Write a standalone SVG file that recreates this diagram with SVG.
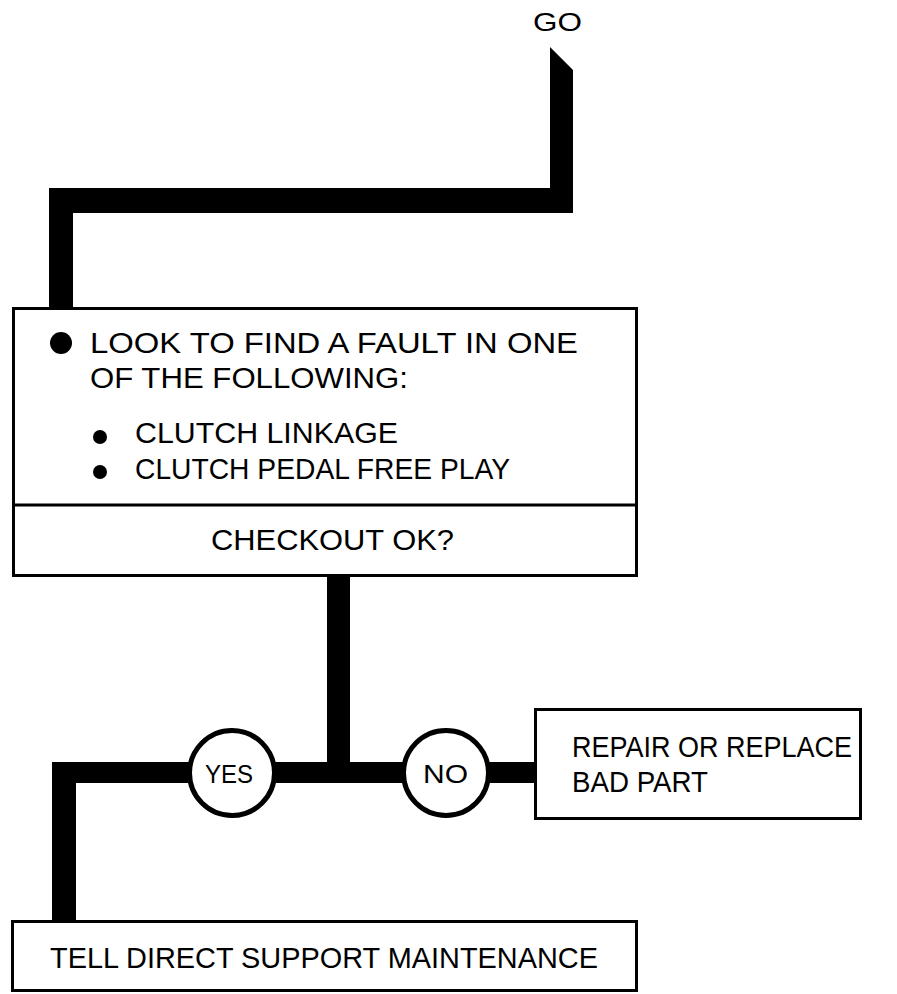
<svg xmlns="http://www.w3.org/2000/svg" width="897" height="994" viewBox="0 0 897 994">
<style>
.box{fill:#fff;stroke:#000;stroke-width:3}
.bar{fill:#000}
.t{font-family:"Liberation Sans",Arial,sans-serif;font-size:29px;fill:#000}
.s{font-family:"Liberation Sans",Arial,sans-serif;font-size:26px;fill:#000}
.circ{fill:#fff;stroke:#000;stroke-width:5}
</style>
<rect width="897" height="994" fill="#fff"/>
<g id="connectors">
<polygon class="bar" points="550,47 573,70 573,213 73,213 73,307 49,307 49,188 550,188"/>
<rect class="bar" x="327" y="575" width="23" height="200"/>
<rect class="bar" x="52" y="762" width="484" height="21"/>
<rect class="bar" x="52" y="762" width="24" height="160"/>
</g>
<g id="go">
<text class="s" x="533" y="31" textLength="49" lengthAdjust="spacingAndGlyphs">GO</text>
</g>
<g id="check">
<rect class="box" x="13.5" y="308.5" width="623" height="267"/>
<line x1="13.5" y1="505" x2="636.5" y2="505" stroke="#000" stroke-width="3"/>
<circle cx="61" cy="343" r="11" fill="#000"/>
<text class="t" x="90" y="353" textLength="488" lengthAdjust="spacingAndGlyphs">LOOK TO FIND A FAULT IN ONE</text>
<text class="t" x="90" y="388" textLength="318" lengthAdjust="spacingAndGlyphs">OF THE FOLLOWING:</text>
<circle cx="100" cy="437" r="7" fill="#000"/>
<text class="t" x="135" y="443" textLength="263" lengthAdjust="spacingAndGlyphs">CLUTCH LINKAGE</text>
<circle cx="100" cy="472" r="7" fill="#000"/>
<text class="t" x="135" y="479" textLength="375" lengthAdjust="spacingAndGlyphs">CLUTCH PEDAL FREE PLAY</text>
<text class="t" x="211" y="550" textLength="243" lengthAdjust="spacingAndGlyphs">CHECKOUT OK?</text>
</g>
<g id="yes">
<circle class="circ" cx="232" cy="773" r="42.5"/>
<text class="s" x="205" y="783" textLength="48" lengthAdjust="spacingAndGlyphs">YES</text>
</g>
<g id="no">
<circle class="circ" cx="446" cy="773" r="42.5"/>
<text class="s" x="423" y="783" textLength="45" lengthAdjust="spacingAndGlyphs">NO</text>
</g>
<g id="repair">
<rect class="box" x="535.5" y="709.5" width="325" height="109"/>
<text class="t" x="572" y="757" textLength="280" lengthAdjust="spacingAndGlyphs">REPAIR OR REPLACE</text>
<text class="t" x="572" y="792" textLength="136" lengthAdjust="spacingAndGlyphs">BAD PART</text>
</g>
<g id="tell">
<rect class="box" x="12.5" y="921.5" width="624" height="69"/>
<text class="t" x="50" y="968" textLength="548" lengthAdjust="spacingAndGlyphs">TELL DIRECT SUPPORT MAINTENANCE</text>
</g>
</svg>
